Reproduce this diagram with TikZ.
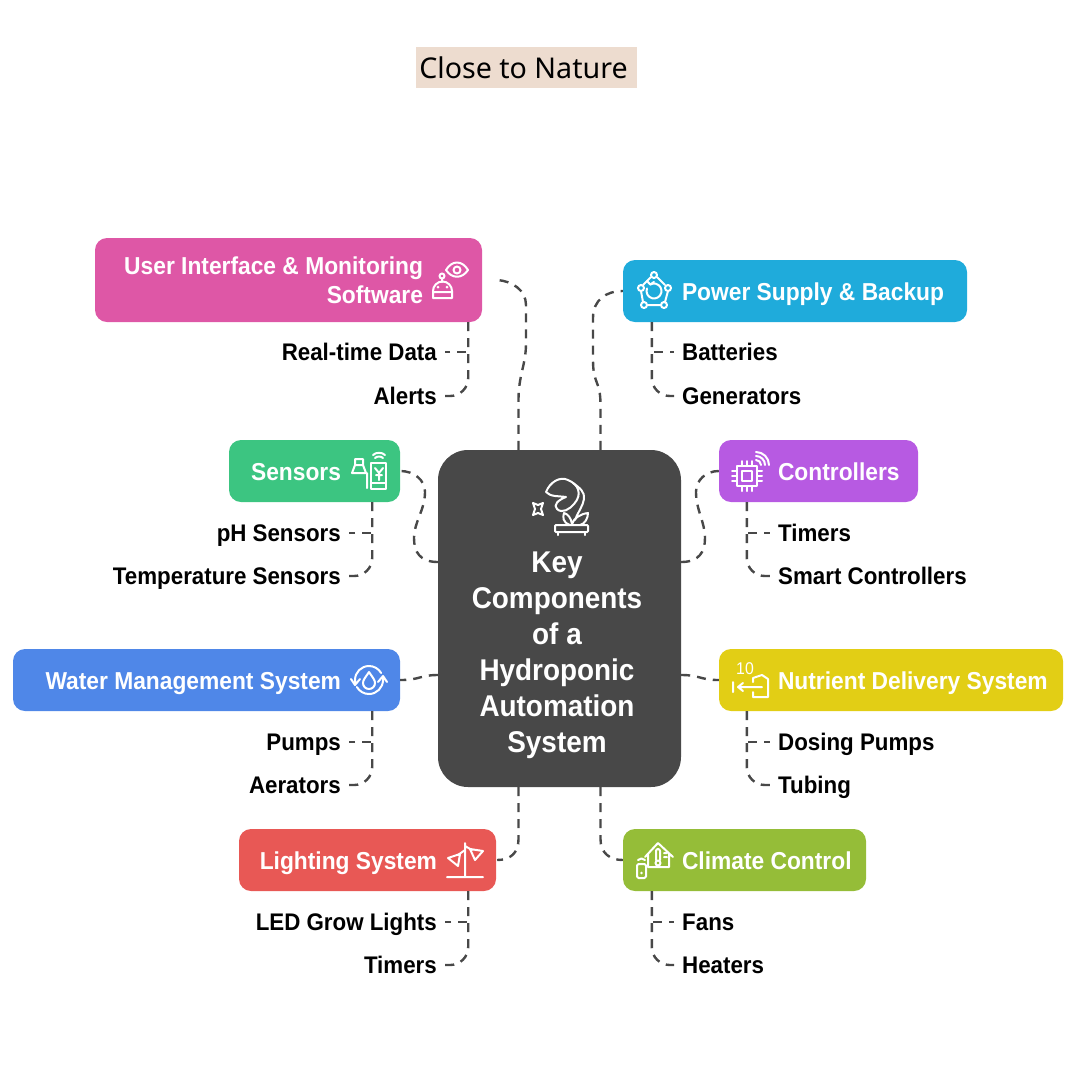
\documentclass[tikz,border=0pt]{standalone}
\usepackage{fontspec}
\setmainfont[FakeStretch=0.93]{Liberation Sans}
\newfontfamily\titlefont{Noto Sans}
\usetikzlibrary{arrows.meta}

\definecolor{hubgray}{HTML}{484848}
\definecolor{titlesand}{HTML}{EDDCCF}
\definecolor{uipink}{HTML}{DE57A6}
\definecolor{powerblue}{HTML}{1FABDB}
\definecolor{sensorgreen}{HTML}{3CC581}
\definecolor{ctrlpurple}{HTML}{B75AE2}
\definecolor{waterblue}{HTML}{4F87E8}
\definecolor{nutrientyellow}{HTML}{E2CE15}
\definecolor{lightred}{HTML}{E85855}
\definecolor{climategreen}{HTML}{95BD38}

\tikzset{
  panel/.style={rounded corners=12pt,inner sep=0pt},
  headtext/.style={text=white,font=\bfseries\fontsize{24.5}{29}\selectfont,inner sep=0pt},
  headline/.style={headtext,text height=18pt,text depth=0pt},
  itemtext/.style={font=\bfseries\fontsize{24}{28}\selectfont,text height=17pt,text depth=0pt,inner xsep=8pt,inner ysep=0pt},
  link/.style={hubgray,line width=2.4pt,dash pattern=on 9pt off 7pt},
  icon/.style={white,line width=2pt,line cap=round,line join=round},
}

\begin{document}
\begin{tikzpicture}[x=1pt,y=-1pt]
        \useasboundingbox (0,0) rectangle (1080,1080);

        % title
        \node[fill=titlesand,minimum width=221pt,minimum height=41pt,inner sep=0pt,font=\titlefont\fontsize{28.6}{34}\selectfont] (title) at (526.5,67.5) {\hspace*{-6pt}Close to Nature};

        % hub
        \node[fill=hubgray,rounded corners=30pt,minimum width=243pt,minimum height=337pt] (hub) at (559.5,618.5) {};
        \node[text=white,font=\bfseries\fontsize{30}{36}\selectfont,align=center,inner sep=0pt] (hubtext) at (557,655) {Key\\Components\\of a\\Hydroponic\\Automation\\System};

        % boxes
        \node[panel,fill=uipink,minimum width=387pt,minimum height=84pt] (ui) at (288.5,280) {};
        \node[panel,fill=powerblue,minimum width=344pt,minimum height=62pt] (power) at (795,291) {};
        \node[panel,fill=sensorgreen,minimum width=171pt,minimum height=62pt] (sensors) at (314.5,471) {};
        \node[panel,fill=ctrlpurple,minimum width=199pt,minimum height=62pt] (ctrl) at (818.5,471) {};
        \node[panel,fill=waterblue,minimum width=387pt,minimum height=62pt] (water) at (206.5,680) {};
        \node[panel,fill=nutrientyellow,minimum width=344pt,minimum height=62pt] (nutrient) at (891,680) {};
        \node[panel,fill=lightred,minimum width=257pt,minimum height=62pt] (light) at (367.5,860) {};
        \node[panel,fill=climategreen,minimum width=243pt,minimum height=62pt] (climate) at (744.5,860) {};

        \node[headtext,anchor=east,align=right] (uitext) at ([xshift=-59pt]ui.east) {User Interface \& Monitoring\\Software};
        \node[headline,anchor=west] (powertext) at ([xshift=59pt]power.west) {Power Supply \& Backup};
        \node[headline,anchor=east] (sensorstext) at ([xshift=-59pt]sensors.east) {Sensors};
        \node[headline,anchor=west] (ctrltext) at ([xshift=59pt]ctrl.west) {Controllers};
        \node[headline,anchor=east] (watertext) at ([xshift=-59pt]water.east) {Water Management System};
        \node[headline,anchor=west] (nutrienttext) at ([xshift=59pt]nutrient.west) {Nutrient Delivery System};
        \node[headline,anchor=east] (lighttext) at ([xshift=-59pt]light.east) {Lighting System};
        \node[headline,anchor=west] (climatetext) at ([xshift=59pt]climate.west) {Climate Control};

        % items
        \node[itemtext,anchor=east] (realtime) at (445,352) {Real-time Data};
        \node[itemtext,anchor=east] (alerts) at (445,396) {Alerts};
        \node[itemtext,anchor=west] (batteries) at (674,352) {Batteries};
        \node[itemtext,anchor=west] (generators) at (674,396) {Generators};
        \node[itemtext,anchor=east] (ph) at (349,533) {pH Sensors};
        \node[itemtext,anchor=east] (temp) at (349,576) {Temperature Sensors};
        \node[itemtext,anchor=west] (timers) at (770,533) {Timers};
        \node[itemtext,anchor=west] (smart) at (770,576) {Smart Controllers};
        \node[itemtext,anchor=east] (pumps) at (349,742) {Pumps};
        \node[itemtext,anchor=east] (aerators) at (349,785) {Aerators};
        \node[itemtext,anchor=west] (dosing) at (770,742) {Dosing Pumps};
        \node[itemtext,anchor=west] (tubing) at (770,785) {Tubing};
        \node[itemtext,anchor=east] (led) at (445,922) {LED Grow Lights};
        \node[itemtext,anchor=east] (lamptimers) at (445,965) {Timers};
        \node[itemtext,anchor=west] (fans) at (674,922) {Fans};
        \node[itemtext,anchor=west] (heaters) at (674,965) {Heaters};

        % box to items
        \foreach \panelname/\shift/\first/\second in {ui/-14/realtime/alerts,sensors/-28/ph/temp,water/-28/pumps/aerators,light/-28/led/lamptimers}{
            \draw[link] ([xshift=\shift pt]\panelname.south east) |- (\first.east);
            \draw[link,rounded corners=18pt] ([xshift=\shift pt]\panelname.south east) |- (\second.east);
        }
        \foreach \panelname/\shift/\first/\second in {power/29/batteries/generators,ctrl/28/timers/smart,nutrient/28/dosing/tubing,climate/29/fans/heaters}{
            \draw[link] ([xshift=\shift pt]\panelname.south west) |- (\first.west);
            \draw[link,rounded corners=18pt] ([xshift=\shift pt]\panelname.south west) |- (\second.west);
        }

        % hub to boxes
        \coordinate (uiend) at ([xshift=15pt]ui.east);
        \coordinate (lightend) at ([xshift=1pt]light.east);
        \draw[link] ([xshift=-41pt]hub.north) -- ++(0,-50) .. controls +(0,-25) and (526,365) .. (526,343) -- (526,305) .. controls (526,290) and (512,281) .. (uiend);
        \draw[link] ([xshift=41pt]hub.north) -- ++(0,-45) .. controls +(0,-25) and (593,385) .. (593,360) -- (593,318) .. controls (593,300) and (606,291) .. (power.west);
        \draw[link] ([yshift=56.5pt]hub.west) .. controls (420,562) and (414,552) .. (414,538) .. controls (414,522) and (425,510) .. (425,492) .. controls (425,480) and (414,471) .. (sensors.east);
        \draw[link] ([yshift=56.5pt]hub.east) .. controls (699,562) and (705,552) .. (705,538) .. controls (705,522) and (696,510) .. (696,492) .. controls (696,480) and (706,471) .. (ctrl.west);
        \draw[link] ([yshift=-56.5pt]hub.west) .. controls (420,675) and (420,680) .. (water.east);
        \draw[link] ([yshift=-56.5pt]hub.east) .. controls (700,675) and (700,680) .. (nutrient.west);
        \draw[link] ([xshift=-41pt]hub.south) -- ++(0,52) .. controls +(0,14) and (510,860) .. (lightend);
        \draw[link] ([xshift=41pt]hub.south) -- ++(0,52) .. controls +(0,14) and (610,860) .. (climate.west);

        % eye and robot
        \draw[icon] (446,270) .. controls (452,260) and (462,260) .. (468,270) .. controls (462,279) and (452,279) .. cycle;
        \draw[icon] (457,270) circle (3.5);
        \draw[icon] (442,276) circle (2.5) (442,279) -- (442,282);
        \draw[icon] (433,298) -- (452,298) -- (452,291) arc (0:-180:9.5) -- cycle (433,292) -- (452,292);
        \fill[white] (438,287) circle (1.5) (447,287) circle (1.5);

        % pentagon
        \draw[icon] (654,275) circle (3) (668,288) circle (3) (664,305) circle (3) (644,305) circle (3) (641,288) circle (3);
        \draw[icon] (651,277) -- (643,285) (657,277) -- (665,285) (668,291) -- (665,302) (661,305) -- (647,305) (643,302) -- (641,291);
        \draw[icon] (650.25,284.5) arc (-120:200:7.5);
        \draw[icon] (647,281) -- (650.25,284.5) -- (654,282);

        % money phone
        \draw[icon] (371,463) rectangle (386,489) (371,483) -- (386,483);
        \draw[icon] (375,458) .. controls (377,456) and (381,456) .. (383,458) (373,455) .. controls (376,452) and (382,452) .. (385,455);
        \draw[icon] (375,468) -- (379,473) -- (383,468) (379,473) -- (379,480) (376,475) -- (382,475);
        \draw[icon] (355,459) rectangle (363,465) (355,465) -- (352,473) -- (366,473) -- (363,465) (367,473) -- (367,488);

        % chip
        \draw[icon] (737,466) rectangle (757,486) (742,471) rectangle (752,481);
        \foreach \ppos in {742,747,752}{
            \draw[icon] (\ppos,461) -- (\ppos,466) (\ppos,486) -- (\ppos,491);
            \draw[icon] (732,\ppos-271) -- (737,\ppos-271) (757,\ppos-271) -- (762,\ppos-271);
        }
        \draw[icon] (756,460) arc (-90:0:5) (756,456) arc (-90:0:9) (756,452) arc (-90:0:13);

        % drop and arrows
        \draw[icon] (355,680) arc (180:330:14) (383,680) arc (0:150:14);
        \draw[icon] (355,680) -- (355,685) (351,679) -- (355,685) -- (360,679);
        \draw[icon] (383,680) -- (383,676) (378,682) -- (383,676) -- (387,682);
        \draw[icon] (369,672) .. controls (373,678) and (375,680) .. (375,683) arc (0:180:6) .. controls (363,680) and (365,678) .. cycle;

        % ten file
        \node[text=white,font=\fontsize{17}{17}\selectfont,inner sep=0pt] (ten) at (745,669) {10};
        \draw[icon] (733,682) -- (733,692) (762,687) -- (738,687) (743,683) -- (738,687) -- (743,691);
        \draw[icon] (753,682) -- (753,678) -- (762,675) -- (768,679) -- (768,697) -- (753,697) -- (753,692);

        % lamps
        \draw[icon] (447,877) -- (483,877) (465,877) -- (465,843) (465,846) -- (472,850) (465,850) -- (458,855);
        \draw[icon] (470,849) -- (483,851) -- (475,860) -- cycle (448,858) -- (460,854) -- (458,866) -- cycle;

        % house and phone
        \draw[icon] (645,857) -- (658,843) -- (673,857) (648,854) -- (648,867) -- (669,867) -- (669,854);
        \draw[icon] (656,851) -- (656,860) (660,851) -- (660,860) (656,851) arc (180:360:2);
        \draw[icon] (658,863) circle (2.5) (664,853) -- (667,853) (664,857) -- (667,857);
        \draw[icon,rounded corners=1.5pt] (637,864) rectangle (646,878);
        \fill[white] (641.5,873) circle (1.3);
        \draw[icon] (638,860) .. controls (640,858) and (643,858) .. (645,860);

        % hub plant
        \draw[icon] (546,492) .. controls (550,482) and (560,476) .. (568,480) .. controls (578,484) and (583,494) .. (574,504) .. controls (570,509) and (562,514) .. (557,509) .. controls (553,505) and (558,500) .. (566,497) .. controls (560,496) and (550,497) .. (546,492) -- cycle;
        \draw[icon] (573,483) .. controls (580,488) and (585,492) .. (584,499) .. controls (583,506) and (578,512) .. (575,520);
        \draw[icon] (570,525) .. controls (562,522) and (563,517) .. (564,513) .. controls (568,514) and (571,518) .. (572,524) .. controls (574,518) and (580,514) .. (588,513) .. controls (588,518) and (585,524) .. (580,525);
        \draw[icon,rounded corners=1pt] (555,525) rectangle (588,532);
        \draw[icon] (558,532) -- (558,535) (585,532) -- (585,535);
        \draw[icon] (533,503) -- (535,509) -- (533,515) -- (538,513) -- (543,515) -- (541,509) -- (543,503) -- (538,505) -- cycle;
    \end{tikzpicture}
\end{document}
